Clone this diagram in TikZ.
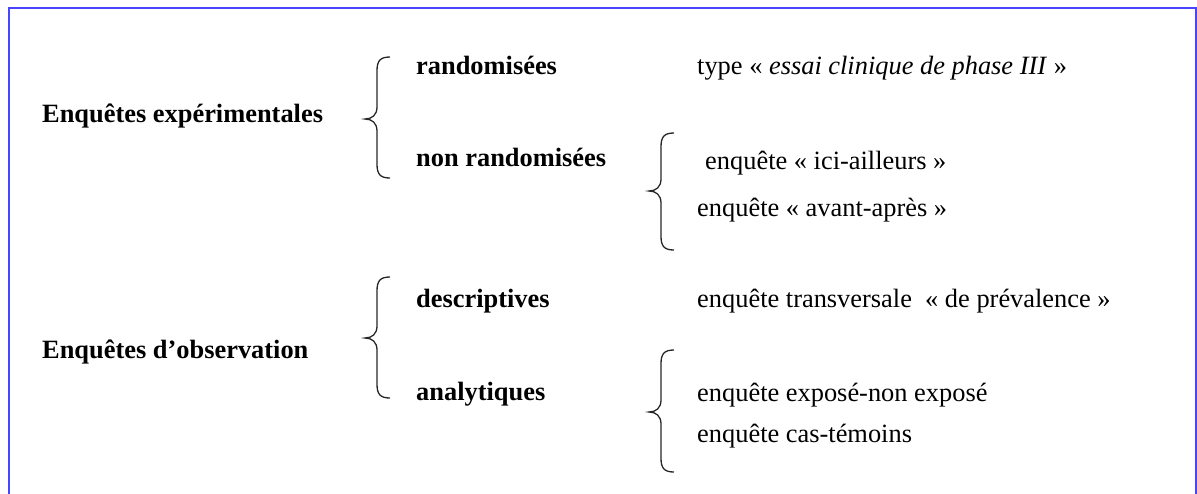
\documentclass[tikz,border=0pt]{standalone}
\usepackage{fontspec}
\setmainfont{Liberation Serif}
\definecolor{frameblue}{RGB}{70,70,255}
\begin{document}
\begin{tikzpicture}[x=1pt,y=-1pt,
  lbl/.style={anchor=base west,inner sep=0pt,font=\fontsize{26.4}{31}\selectfont},
  head/.style={lbl,font=\fontsize{26.4}{31}\selectfont\bfseries},
  bracepath/.style={line width=1.3pt,black!85}]
\useasboundingbox (0,0) rectangle (1197,493);
% frame, open at the bottom
\draw[frameblue,line width=2.5pt] (9,500) -- (9,8) -- (1196,8) -- (1196,500);

% first level
\node[head] (exp) at (42,122) {Enquêtes expérimentales};
\node[head] (obs) at (42,358) {Enquêtes d’observation};

% second level
\node[head] (rand)  at (416,74)  {randomisées};
\node[head] (nrand) at (416,166) {non randomisées};
\node[head] (desc)  at (416,307) {descriptives};
\node[head] (anal)  at (416,400) {analytiques};

% third level
\node[lbl] (essai) at (697,74)  {type « \textit{essai clinique de phase III} »};
\node[lbl] (ici)   at (705,169) {enquête « ici-ailleurs »};
\node[lbl] (avap)  at (697,216) {enquête « avant-après »};
\node[lbl] (trans) at (697,307) {enquête transversale\ \ « de prévalence »};
\node[lbl] (expo)  at (697,401) {enquête exposé-non exposé};
\node[lbl] (cas)   at (697,442) {enquête cas-témoins};

% curly braces: top end, stem, tip, stem, bottom end
\newcommand{\curlybrace}[4]{% #1 stem x, #2 top y, #3 tip y, #4 bottom y
  \draw[bracepath]
    ({#1+13},#2) .. controls ({#1+3},#2) and (#1,{#2+4}) .. (#1,{#2+14})
    -- (#1,{#3-12}) .. controls (#1,{#3-4}) and ({#1-5},#3) .. ({#1-12},#3)
    .. controls ({#1-5},#3) and (#1,{#3+4}) .. (#1,{#3+12})
    -- (#1,{#4-14}) .. controls (#1,{#4-4}) and ({#1+3},#4) .. ({#1+13},#4);}
\curlybrace{377}{57}{119}{178}
\curlybrace{661}{133}{191}{250}
\curlybrace{377}{277}{338}{398}
\curlybrace{661}{350}{412}{472}
\end{tikzpicture}
\end{document}
